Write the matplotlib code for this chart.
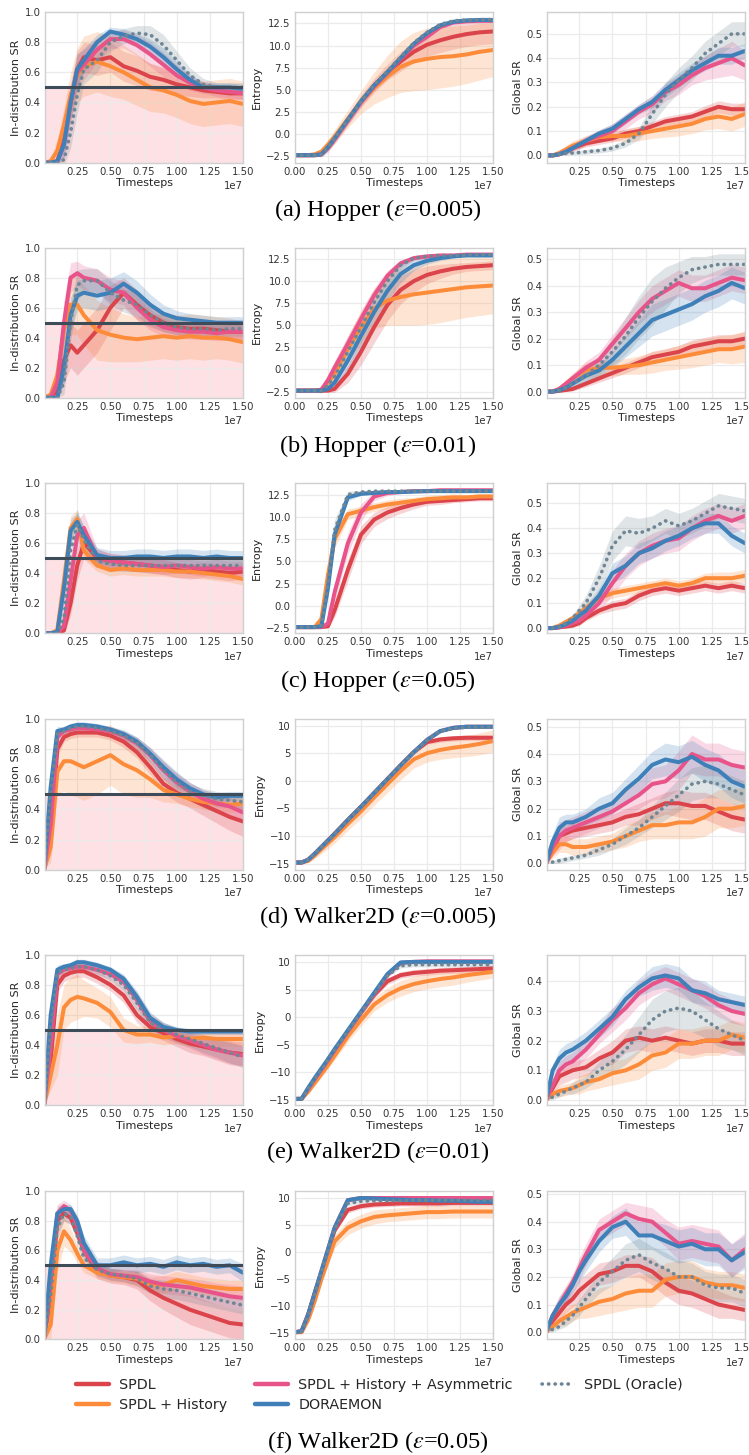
import numpy as np
import matplotlib
matplotlib.use("Agg")
import matplotlib.pyplot as plt
from matplotlib.lines import Line2D
from matplotlib.ticker import MultipleLocator

STEPS = [0, 0.05, 0.1, 0.15, 0.2, 0.25, 0.3, 0.4, 0.5, 0.6, 0.7, 0.8, 0.9, 1.0, 1.1, 1.2, 1.3, 1.4, 1.5]

METHODS = ["SPDL", "SPDL + History", "SPDL + History + Asymmetric", "DORAEMON", "SPDL (Oracle)"]
COLORS = ["#dc444c", "#fd8c3a", "#e8548a", "#3f80b9", "#6f8694"]

CAPTIONS = ["(a) Hopper ($\\epsilon$=0.005)", "(b) Hopper ($\\epsilon$=0.01)", "(c) Hopper ($\\epsilon$=0.05)",
            "(d) Walker2D ($\\epsilon$=0.005)", "(e) Walker2D ($\\epsilon$=0.01)", "(f) Walker2D ($\\epsilon$=0.05)"]

# ---------------- Hopper eps=0.005 ----------------
HOP005_ID = [
    [0, 0, 0.01, 0.15, 0.4, 0.62, 0.7, 0.68, 0.7, 0.64, 0.61, 0.57, 0.55, 0.52, 0.5, 0.48, 0.47, 0.46, 0.46],
    [0, 0.01, 0.08, 0.25, 0.45, 0.58, 0.64, 0.67, 0.64, 0.6, 0.55, 0.5, 0.48, 0.45, 0.41, 0.39, 0.4, 0.41, 0.39],
    [0, 0, 0.01, 0.12, 0.4, 0.6, 0.65, 0.75, 0.82, 0.82, 0.78, 0.72, 0.65, 0.58, 0.53, 0.5, 0.48, 0.47, 0.46],
    [0, 0, 0.01, 0.12, 0.4, 0.62, 0.68, 0.8, 0.87, 0.85, 0.82, 0.77, 0.7, 0.62, 0.55, 0.5, 0.5, 0.5, 0.49],
    [0, 0, 0, 0.02, 0.2, 0.45, 0.62, 0.68, 0.8, 0.84, 0.86, 0.85, 0.78, 0.68, 0.58, 0.52, 0.5, 0.5, 0.5],
]
HOP005_ID_SD = [
    [0, 0, 0.02, 0.08, 0.12, 0.12, 0.1, 0.1, 0.1, 0.1, 0.1, 0.09, 0.08, 0.07, 0.06, 0.05, 0.04, 0.04, 0.04],
    [0, 0.02, 0.08, 0.12, 0.15, 0.18, 0.2, 0.2, 0.2, 0.18, 0.17, 0.16, 0.15, 0.15, 0.15, 0.15, 0.15, 0.15, 0.15],
    [0, 0, 0.02, 0.1, 0.12, 0.12, 0.1, 0.08, 0.06, 0.06, 0.07, 0.08, 0.08, 0.07, 0.05, 0.04, 0.04, 0.04, 0.04],
    [0, 0, 0.02, 0.08, 0.1, 0.1, 0.08, 0.05, 0.03, 0.04, 0.04, 0.05, 0.06, 0.05, 0.04, 0.03, 0.03, 0.03, 0.03],
    [0, 0, 0, 0.04, 0.1, 0.12, 0.1, 0.08, 0.06, 0.05, 0.05, 0.06, 0.07, 0.06, 0.05, 0.04, 0.03, 0.03, 0.03],
]
HOP005_ENT = [
    [-2.4, -2.4, -2.4, -2.4, -2.3, -1.5, -0.5, 1.6, 3.7, 5.5, 7.0, 8.2, 9.3, 10.1, 10.6, 11.0, 11.3, 11.5, 11.6],
    [-2.4, -2.4, -2.4, -2.3, -2.0, -1.2, -0.3, 1.7, 3.6, 5.2, 6.5, 7.6, 8.2, 8.5, 8.7, 8.8, 9.0, 9.3, 9.5],
    [-2.4, -2.4, -2.4, -2.4, -2.3, -1.6, -0.6, 1.5, 3.6, 5.4, 6.9, 8.5, 10.0, 11.0, 12.1, 12.6, 12.75, 12.8, 12.8],
    [-2.4, -2.4, -2.4, -2.4, -2.3, -1.5, -0.5, 1.6, 3.7, 5.5, 7.0, 8.6, 10.2, 11.4, 12.3, 12.7, 12.85, 12.9, 12.9],
    [-2.4, -2.4, -2.4, -2.4, -2.3, -1.5, -0.5, 1.6, 3.7, 5.6, 7.1, 8.7, 10.3, 11.5, 12.4, 12.8, 12.9, 12.95, 12.95],
]
HOP005_ENT_SD = [
    [0.05, 0.05, 0.05, 0.1, 0.2, 0.4, 0.5, 0.6, 0.7, 0.8, 0.9, 1.1, 1.2, 1.3, 1.4, 1.4, 1.4, 1.4, 1.4],
    [0.1, 0.1, 0.1, 0.2, 0.4, 0.6, 0.8, 1.0, 1.3, 1.8, 2.4, 2.9, 3.3, 3.5, 3.5, 3.4, 3.3, 3.2, 3.0],
    [0.05, 0.05, 0.05, 0.1, 0.3, 0.5, 0.5, 0.5, 0.5, 0.5, 0.5, 0.5, 0.4, 0.3, 0.2, 0.1, 0.1, 0.1, 0.1],
    [0.05, 0.05, 0.05, 0.1, 0.2, 0.3, 0.3, 0.3, 0.3, 0.3, 0.3, 0.3, 0.3, 0.2, 0.15, 0.1, 0.1, 0.1, 0.1],
    [0.05, 0.05, 0.05, 0.1, 0.2, 0.3, 0.3, 0.3, 0.3, 0.3, 0.3, 0.3, 0.3, 0.2, 0.15, 0.1, 0.1, 0.1, 0.1],
]
HOP005_GSR = [
    [0, 0, 0.005, 0.015, 0.03, 0.04, 0.05, 0.06, 0.07, 0.09, 0.1, 0.12, 0.14, 0.15, 0.16, 0.18, 0.2, 0.19, 0.19],
    [0, 0, 0.01, 0.025, 0.04, 0.05, 0.06, 0.075, 0.08, 0.08, 0.09, 0.1, 0.11, 0.12, 0.13, 0.15, 0.16, 0.15, 0.17],
    [0, 0, 0.005, 0.015, 0.03, 0.045, 0.06, 0.08, 0.1, 0.14, 0.18, 0.21, 0.26, 0.29, 0.33, 0.36, 0.38, 0.4, 0.37],
    [0, 0, 0.005, 0.015, 0.03, 0.045, 0.06, 0.09, 0.11, 0.15, 0.19, 0.22, 0.27, 0.31, 0.35, 0.38, 0.41, 0.41, 0.43],
    [0, 0, 0.005, 0.008, 0.01, 0.012, 0.015, 0.02, 0.03, 0.05, 0.09, 0.17, 0.25, 0.31, 0.36, 0.42, 0.46, 0.5, 0.5],
]
HOP005_GSR_SD = [
    [0, 0.003, 0.005, 0.008, 0.01, 0.012, 0.015, 0.015, 0.015, 0.02, 0.02, 0.02, 0.02, 0.02, 0.02, 0.025, 0.025, 0.025, 0.025],
    [0, 0.005, 0.01, 0.015, 0.02, 0.02, 0.02, 0.02, 0.02, 0.025, 0.03, 0.03, 0.035, 0.04, 0.04, 0.045, 0.05, 0.05, 0.05],
    [0, 0.003, 0.005, 0.01, 0.015, 0.02, 0.02, 0.025, 0.03, 0.03, 0.03, 0.035, 0.035, 0.04, 0.04, 0.05, 0.06, 0.07, 0.06],
    [0, 0.003, 0.005, 0.008, 0.01, 0.012, 0.015, 0.015, 0.02, 0.02, 0.02, 0.025, 0.03, 0.03, 0.03, 0.03, 0.035, 0.035, 0.03],
    [0, 0.003, 0.005, 0.006, 0.008, 0.008, 0.01, 0.01, 0.012, 0.015, 0.025, 0.04, 0.05, 0.05, 0.05, 0.05, 0.05, 0.05, 0.05],
]

# ---------------- Hopper eps=0.01 ----------------
HOP01_ID = [
    [0, 0, 0.05, 0.25, 0.35, 0.3, 0.35, 0.45, 0.6, 0.7, 0.62, 0.55, 0.5, 0.47, 0.46, 0.46, 0.45, 0.44, 0.44],
    [0, 0.02, 0.15, 0.45, 0.62, 0.62, 0.55, 0.45, 0.42, 0.4, 0.39, 0.4, 0.41, 0.4, 0.41, 0.4, 0.4, 0.39, 0.37],
    [0, 0, 0.1, 0.5, 0.8, 0.83, 0.8, 0.78, 0.72, 0.7, 0.6, 0.52, 0.47, 0.45, 0.44, 0.44, 0.43, 0.44, 0.44],
    [0, 0, 0.0, 0.2, 0.55, 0.68, 0.7, 0.68, 0.7, 0.76, 0.7, 0.62, 0.56, 0.53, 0.52, 0.51, 0.5, 0.5, 0.5],
    [0, 0, 0, 0.1, 0.5, 0.75, 0.78, 0.78, 0.7, 0.65, 0.62, 0.55, 0.5, 0.47, 0.46, 0.46, 0.45, 0.46, 0.46],
]
HOP01_ID_SD = [
    [0, 0, 0.05, 0.15, 0.15, 0.15, 0.15, 0.15, 0.15, 0.1, 0.1, 0.08, 0.06, 0.05, 0.05, 0.05, 0.05, 0.05, 0.05],
    [0, 0.02, 0.1, 0.15, 0.2, 0.2, 0.2, 0.2, 0.18, 0.16, 0.15, 0.15, 0.15, 0.15, 0.15, 0.15, 0.14, 0.14, 0.14],
    [0, 0, 0.05, 0.15, 0.1, 0.08, 0.08, 0.08, 0.08, 0.08, 0.08, 0.07, 0.06, 0.05, 0.05, 0.05, 0.05, 0.05, 0.05],
    [0, 0, 0.02, 0.1, 0.12, 0.1, 0.1, 0.1, 0.1, 0.08, 0.08, 0.07, 0.06, 0.05, 0.04, 0.04, 0.04, 0.04, 0.04],
    [0, 0, 0, 0.08, 0.12, 0.1, 0.08, 0.08, 0.08, 0.08, 0.08, 0.07, 0.06, 0.05, 0.05, 0.05, 0.05, 0.05, 0.05],
]
HOP01_ENT = [
    [-2.4, -2.4, -2.4, -2.4, -2.4, -2.4, -2.2, -0.5, 2.0, 4.8, 7.3, 9.0, 10.0, 10.7, 11.1, 11.4, 11.6, 11.7, 11.8],
    [-2.4, -2.4, -2.4, -2.4, -2.3, -1.5, -0.5, 2.3, 4.8, 6.9, 7.8, 8.2, 8.5, 8.7, 8.9, 9.1, 9.3, 9.4, 9.5],
    [-2.4, -2.4, -2.4, -2.4, -2.3, -1.2, 0.2, 2.9, 5.7, 8.4, 10.6, 12.0, 12.6, 12.8, 12.9, 12.9, 13.0, 13.0, 13.0],
    [-2.4, -2.4, -2.4, -2.4, -2.4, -2.2, -1.5, 1.0, 3.8, 6.5, 8.9, 10.8, 11.8, 12.3, 12.6, 12.8, 12.9, 12.9, 12.9],
    [-2.4, -2.4, -2.4, -2.4, -2.4, -1.8, -0.8, 2.0, 4.8, 7.6, 10.0, 11.8, 12.6, 12.8, 12.9, 12.9, 12.95, 13.0, 13.0],
]
HOP01_ENT_SD = [
    [0.05, 0.05, 0.05, 0.05, 0.1, 0.2, 0.4, 1.0, 1.5, 1.8, 1.8, 1.6, 1.3, 1.0, 0.8, 0.6, 0.5, 0.5, 0.5],
    [0.1, 0.1, 0.1, 0.2, 0.4, 0.7, 1.0, 1.5, 1.8, 2.3, 2.8, 3.2, 3.5, 3.6, 3.6, 3.5, 3.4, 3.3, 3.2],
    [0.05, 0.05, 0.05, 0.1, 0.3, 0.6, 0.8, 0.9, 0.9, 0.8, 0.6, 0.4, 0.2, 0.1, 0.1, 0.1, 0.1, 0.1, 0.1],
    [0.05, 0.05, 0.05, 0.05, 0.1, 0.3, 0.5, 0.9, 1.2, 1.3, 1.2, 1.0, 0.6, 0.4, 0.3, 0.2, 0.1, 0.1, 0.1],
    [0.05, 0.05, 0.05, 0.05, 0.2, 0.5, 0.7, 0.9, 1.0, 1.0, 0.8, 0.5, 0.3, 0.2, 0.1, 0.1, 0.1, 0.1, 0.1],
]
HOP01_GSR = [
    [0, 0, 0.003, 0.006, 0.01, 0.02, 0.03, 0.05, 0.07, 0.09, 0.11, 0.13, 0.14, 0.15, 0.17, 0.18, 0.19, 0.19, 0.2],
    [0, 0, 0.01, 0.03, 0.05, 0.065, 0.08, 0.09, 0.09, 0.095, 0.1, 0.11, 0.12, 0.13, 0.14, 0.15, 0.16, 0.16, 0.17],
    [0, 0, 0.01, 0.03, 0.05, 0.07, 0.09, 0.12, 0.18, 0.24, 0.3, 0.35, 0.38, 0.41, 0.39, 0.39, 0.41, 0.43, 0.42],
    [0, 0, 0.005, 0.015, 0.03, 0.045, 0.06, 0.08, 0.12, 0.17, 0.22, 0.27, 0.29, 0.31, 0.33, 0.36, 0.38, 0.41, 0.39],
    [0, 0, 0.005, 0.015, 0.03, 0.045, 0.06, 0.1, 0.15, 0.21, 0.28, 0.34, 0.39, 0.43, 0.46, 0.47, 0.48, 0.48, 0.48],
]
HOP01_GSR_SD = [
    [0, 0.002, 0.003, 0.005, 0.008, 0.01, 0.012, 0.015, 0.018, 0.02, 0.02, 0.022, 0.022, 0.024, 0.025, 0.025, 0.025, 0.025, 0.025],
    [0, 0.005, 0.01, 0.015, 0.02, 0.025, 0.03, 0.03, 0.03, 0.03, 0.035, 0.04, 0.04, 0.045, 0.05, 0.05, 0.05, 0.055, 0.06],
    [0, 0.003, 0.005, 0.01, 0.015, 0.02, 0.025, 0.03, 0.035, 0.04, 0.045, 0.05, 0.05, 0.05, 0.05, 0.05, 0.05, 0.05, 0.05],
    [0, 0.003, 0.005, 0.01, 0.012, 0.015, 0.02, 0.025, 0.03, 0.04, 0.05, 0.06, 0.06, 0.06, 0.06, 0.06, 0.06, 0.06, 0.06],
    [0, 0.003, 0.005, 0.01, 0.015, 0.02, 0.025, 0.035, 0.05, 0.07, 0.08, 0.09, 0.08, 0.06, 0.05, 0.04, 0.04, 0.04, 0.04],
]

# ---------------- Hopper eps=0.05 ----------------
HOP05_ID = [
    [0, 0, 0, 0.02, 0.2, 0.45, 0.6, 0.5, 0.48, 0.47, 0.46, 0.45, 0.44, 0.42, 0.41, 0.42, 0.41, 0.4, 0.41],
    [0, 0, 0.02, 0.35, 0.7, 0.76, 0.55, 0.45, 0.42, 0.43, 0.42, 0.42, 0.42, 0.41, 0.41, 0.4, 0.39, 0.38, 0.36],
    [0, 0, 0, 0.05, 0.35, 0.65, 0.7, 0.5, 0.48, 0.47, 0.46, 0.45, 0.44, 0.45, 0.44, 0.43, 0.44, 0.43, 0.43],
    [0, 0, 0.01, 0.3, 0.68, 0.74, 0.65, 0.52, 0.5, 0.5, 0.51, 0.51, 0.5, 0.51, 0.51, 0.5, 0.51, 0.5, 0.5],
    [0, 0, 0, 0.1, 0.55, 0.72, 0.62, 0.48, 0.46, 0.45, 0.45, 0.45, 0.45, 0.45, 0.45, 0.45, 0.45, 0.45, 0.45],
]
HOP05_ID_SD = [
    [0, 0, 0, 0.02, 0.08, 0.1, 0.1, 0.06, 0.05, 0.05, 0.05, 0.05, 0.05, 0.05, 0.05, 0.05, 0.05, 0.05, 0.05],
    [0, 0, 0.02, 0.1, 0.08, 0.06, 0.06, 0.04, 0.04, 0.04, 0.04, 0.04, 0.04, 0.04, 0.04, 0.04, 0.04, 0.04, 0.04],
    [0, 0, 0, 0.04, 0.1, 0.1, 0.1, 0.06, 0.05, 0.05, 0.05, 0.05, 0.05, 0.05, 0.05, 0.05, 0.05, 0.05, 0.05],
    [0, 0, 0.01, 0.1, 0.08, 0.06, 0.06, 0.05, 0.05, 0.05, 0.05, 0.05, 0.05, 0.05, 0.05, 0.05, 0.05, 0.05, 0.05],
    [0, 0, 0, 0.08, 0.1, 0.1, 0.08, 0.04, 0.04, 0.04, 0.04, 0.04, 0.04, 0.04, 0.04, 0.04, 0.04, 0.04, 0.04],
]
HOP05_ENT = [
    [-2.4, -2.4, -2.4, -2.4, -2.4, -2.3, -0.5, 4.0, 8.0, 9.7, 10.5, 11.0, 11.4, 11.7, 11.8, 11.9, 12.0, 12.1, 12.1],
    [-2.4, -2.4, -2.4, -2.4, -1.5, 3.5, 7.5, 10.3, 10.7, 11.1, 11.4, 11.6, 11.8, 12.0, 12.1, 12.2, 12.2, 12.3, 12.3],
    [-2.4, -2.4, -2.4, -2.4, -2.4, -2.0, 1.5, 7.0, 10.5, 12.3, 12.7, 12.8, 12.9, 12.9, 13.0, 13.0, 13.0, 13.0, 13.0],
    [-2.4, -2.4, -2.4, -2.4, -2.3, 2.0, 8.0, 12.2, 12.6, 12.7, 12.8, 12.8, 12.85, 12.9, 12.9, 12.9, 12.9, 12.9, 12.9],
    [-2.4, -2.4, -2.4, -2.4, -2.2, 2.5, 8.5, 12.5, 12.8, 12.9, 12.9, 12.9, 12.9, 12.9, 12.9, 12.9, 12.9, 12.9, 12.9],
]
HOP05_ENT_SD = [
    [0.05, 0.05, 0.05, 0.05, 0.1, 0.2, 0.8, 1.2, 1.0, 0.8, 0.7, 0.6, 0.5, 0.4, 0.4, 0.3, 0.3, 0.3, 0.3],
    [0.05, 0.05, 0.05, 0.1, 0.6, 1.0, 1.0, 0.6, 0.5, 0.5, 0.5, 0.5, 0.4, 0.4, 0.4, 0.4, 0.3, 0.3, 0.3],
    [0.05, 0.05, 0.05, 0.05, 0.1, 0.4, 1.0, 1.2, 1.0, 0.5, 0.3, 0.2, 0.1, 0.1, 0.1, 0.1, 0.1, 0.1, 0.1],
    [0.05, 0.05, 0.05, 0.05, 0.2, 0.8, 1.0, 0.4, 0.2, 0.1, 0.1, 0.1, 0.1, 0.1, 0.1, 0.1, 0.1, 0.1, 0.1],
    [0.05, 0.05, 0.05, 0.05, 0.3, 1.0, 1.2, 0.4, 0.2, 0.1, 0.1, 0.1, 0.1, 0.1, 0.1, 0.1, 0.1, 0.1, 0.1],
]
HOP05_GSR = [
    [0, 0, 0.003, 0.006, 0.01, 0.02, 0.04, 0.07, 0.09, 0.1, 0.13, 0.15, 0.16, 0.15, 0.16, 0.17, 0.16, 0.17, 0.16],
    [0, 0, 0.01, 0.025, 0.04, 0.06, 0.08, 0.12, 0.14, 0.15, 0.16, 0.17, 0.18, 0.17, 0.18, 0.2, 0.2, 0.2, 0.21],
    [0, 0, 0.003, 0.01, 0.02, 0.03, 0.05, 0.1, 0.18, 0.25, 0.3, 0.33, 0.35, 0.36, 0.4, 0.43, 0.45, 0.43, 0.45],
    [0, 0, 0.005, 0.015, 0.03, 0.05, 0.07, 0.13, 0.22, 0.25, 0.3, 0.32, 0.35, 0.37, 0.4, 0.42, 0.42, 0.37, 0.34],
    [0, 0, 0.005, 0.02, 0.04, 0.07, 0.1, 0.2, 0.33, 0.39, 0.38, 0.4, 0.43, 0.41, 0.43, 0.46, 0.49, 0.48, 0.47],
]
HOP05_GSR_SD = [
    [0, 0.002, 0.003, 0.005, 0.008, 0.01, 0.012, 0.015, 0.02, 0.02, 0.02, 0.02, 0.02, 0.02, 0.02, 0.02, 0.02, 0.02, 0.02],
    [0, 0.005, 0.008, 0.01, 0.012, 0.015, 0.02, 0.02, 0.02, 0.02, 0.02, 0.02, 0.02, 0.02, 0.02, 0.02, 0.025, 0.025, 0.025],
    [0, 0.002, 0.003, 0.005, 0.008, 0.01, 0.015, 0.03, 0.05, 0.05, 0.05, 0.05, 0.05, 0.05, 0.05, 0.05, 0.05, 0.05, 0.05],
    [0, 0.003, 0.005, 0.008, 0.01, 0.015, 0.02, 0.03, 0.04, 0.04, 0.04, 0.04, 0.04, 0.04, 0.04, 0.04, 0.04, 0.04, 0.04],
    [0, 0.003, 0.005, 0.01, 0.015, 0.02, 0.03, 0.05, 0.06, 0.06, 0.06, 0.05, 0.05, 0.05, 0.05, 0.05, 0.05, 0.05, 0.05],
]

# ---------------- Walker2D eps=0.005 ----------------
WLK005_ID = [
    [0, 0.2, 0.8, 0.88, 0.9, 0.91, 0.91, 0.91, 0.89, 0.85, 0.78, 0.68, 0.57, 0.51, 0.47, 0.43, 0.39, 0.35, 0.32],
    [0, 0.15, 0.65, 0.72, 0.72, 0.7, 0.68, 0.72, 0.76, 0.7, 0.66, 0.6, 0.53, 0.5, 0.47, 0.45, 0.44, 0.43, 0.44],
    [0, 0.3, 0.88, 0.92, 0.93, 0.94, 0.94, 0.93, 0.92, 0.89, 0.84, 0.76, 0.66, 0.58, 0.52, 0.47, 0.44, 0.42, 0.38],
    [0, 0.55, 0.92, 0.93, 0.95, 0.96, 0.96, 0.95, 0.93, 0.9, 0.85, 0.77, 0.68, 0.6, 0.54, 0.5, 0.48, 0.49, 0.49],
    [0, 0.5, 0.9, 0.92, 0.94, 0.95, 0.95, 0.94, 0.92, 0.89, 0.84, 0.76, 0.66, 0.58, 0.52, 0.49, 0.47, 0.46, 0.45],
]
WLK005_ID_SD = [
    [0, 0.1, 0.05, 0.03, 0.03, 0.03, 0.03, 0.03, 0.03, 0.04, 0.04, 0.05, 0.06, 0.06, 0.06, 0.07, 0.08, 0.09, 0.1],
    [0, 0.1, 0.15, 0.2, 0.22, 0.22, 0.22, 0.22, 0.2, 0.2, 0.18, 0.12, 0.08, 0.06, 0.05, 0.05, 0.05, 0.05, 0.05],
    [0, 0.1, 0.04, 0.03, 0.03, 0.03, 0.03, 0.03, 0.03, 0.03, 0.04, 0.05, 0.06, 0.06, 0.06, 0.06, 0.06, 0.06, 0.06],
    [0, 0.1, 0.03, 0.02, 0.02, 0.02, 0.02, 0.02, 0.02, 0.03, 0.03, 0.04, 0.05, 0.05, 0.04, 0.03, 0.03, 0.03, 0.03],
    [0, 0.1, 0.04, 0.03, 0.03, 0.03, 0.03, 0.03, 0.03, 0.03, 0.04, 0.05, 0.06, 0.06, 0.05, 0.05, 0.05, 0.05, 0.05],
]
WLK005_ENT = [
    [-14.8, -14.8, -14.3, -13.2, -12.0, -10.8, -9.6, -7.1, -4.7, -2.2, 0.3, 2.8, 5.2, 7.0, 7.5, 7.7, 7.8, 7.8, 7.8],
    [-14.8, -14.8, -14.5, -13.5, -12.4, -11.3, -10.2, -7.8, -5.5, -3.0, -0.6, 1.8, 3.9, 5.0, 5.6, 6.0, 6.3, 6.7, 7.2],
    [-14.8, -14.8, -14.3, -13.2, -12.0, -10.8, -9.6, -7.1, -4.7, -2.2, 0.3, 2.8, 5.2, 7.4, 9.0, 9.6, 9.8, 9.8, 9.8],
    [-14.8, -14.8, -14.3, -13.2, -12.0, -10.8, -9.6, -7.1, -4.7, -2.2, 0.3, 2.8, 5.2, 7.4, 9.0, 9.6, 9.8, 9.8, 9.8],
    [-14.8, -14.8, -14.3, -13.2, -12.0, -10.8, -9.6, -7.1, -4.7, -2.2, 0.3, 2.8, 5.2, 7.4, 9.0, 9.5, 9.7, 9.7, 9.7],
]
WLK005_ENT_SD = [
    [0.1, 0.1, 0.2, 0.3, 0.3, 0.3, 0.3, 0.3, 0.3, 0.3, 0.3, 0.3, 0.3, 0.4, 0.5, 0.5, 0.5, 0.5, 0.5],
    [0.1, 0.1, 0.3, 0.6, 0.8, 1.0, 1.1, 1.2, 1.3, 1.4, 1.5, 1.6, 1.6, 1.6, 1.7, 1.8, 1.9, 2.0, 2.0],
    [0.1, 0.1, 0.2, 0.2, 0.2, 0.2, 0.2, 0.2, 0.2, 0.2, 0.2, 0.2, 0.2, 0.2, 0.2, 0.2, 0.2, 0.2, 0.2],
    [0.1, 0.1, 0.2, 0.2, 0.2, 0.2, 0.2, 0.2, 0.2, 0.2, 0.2, 0.2, 0.2, 0.2, 0.2, 0.2, 0.2, 0.2, 0.2],
    [0.1, 0.1, 0.2, 0.2, 0.2, 0.2, 0.2, 0.2, 0.2, 0.2, 0.2, 0.2, 0.2, 0.2, 0.2, 0.2, 0.2, 0.2, 0.2],
]
WLK005_GSR = [
    [0, 0.05, 0.1, 0.11, 0.12, 0.125, 0.13, 0.14, 0.15, 0.17, 0.18, 0.2, 0.22, 0.22, 0.21, 0.21, 0.19, 0.17, 0.16],
    [0, 0.04, 0.07, 0.07, 0.06, 0.06, 0.06, 0.07, 0.08, 0.1, 0.12, 0.14, 0.14, 0.15, 0.15, 0.17, 0.2, 0.2, 0.21],
    [0, 0.06, 0.1, 0.12, 0.13, 0.14, 0.15, 0.17, 0.19, 0.22, 0.25, 0.29, 0.3, 0.34, 0.4, 0.38, 0.38, 0.36, 0.35],
    [0, 0.08, 0.13, 0.15, 0.15, 0.16, 0.17, 0.2, 0.22, 0.27, 0.31, 0.36, 0.38, 0.37, 0.39, 0.36, 0.34, 0.3, 0.28],
    [0, 0.005, 0.01, 0.015, 0.02, 0.025, 0.03, 0.05, 0.07, 0.1, 0.13, 0.17, 0.21, 0.25, 0.29, 0.3, 0.29, 0.27, 0.25],
]
WLK005_GSR_SD = [
    [0, 0.02, 0.03, 0.03, 0.03, 0.03, 0.03, 0.03, 0.03, 0.03, 0.04, 0.04, 0.04, 0.05, 0.05, 0.05, 0.05, 0.05, 0.05],
    [0, 0.02, 0.03, 0.03, 0.03, 0.03, 0.03, 0.03, 0.03, 0.04, 0.04, 0.05, 0.05, 0.06, 0.06, 0.07, 0.07, 0.07, 0.07],
    [0, 0.03, 0.05, 0.04, 0.04, 0.04, 0.04, 0.04, 0.04, 0.05, 0.05, 0.06, 0.06, 0.07, 0.07, 0.06, 0.06, 0.06, 0.06],
    [0, 0.03, 0.04, 0.03, 0.03, 0.03, 0.03, 0.04, 0.04, 0.04, 0.05, 0.05, 0.06, 0.06, 0.06, 0.06, 0.06, 0.06, 0.06],
    [0, 0.005, 0.01, 0.01, 0.01, 0.01, 0.01, 0.02, 0.02, 0.03, 0.03, 0.04, 0.05, 0.06, 0.06, 0.06, 0.05, 0.05, 0.05],
]

# ---------------- Walker2D eps=0.01 ----------------
WLK01_ID = [
    [0, 0.3, 0.8, 0.86, 0.88, 0.89, 0.89, 0.85, 0.8, 0.73, 0.6, 0.52, 0.48, 0.44, 0.41, 0.39, 0.37, 0.35, 0.34],
    [0, 0.2, 0.4, 0.65, 0.7, 0.72, 0.71, 0.68, 0.62, 0.5, 0.47, 0.47, 0.45, 0.46, 0.44, 0.45, 0.44, 0.44, 0.44],
    [0, 0.4, 0.87, 0.9, 0.91, 0.92, 0.92, 0.9, 0.87, 0.82, 0.7, 0.56, 0.5, 0.46, 0.43, 0.4, 0.37, 0.35, 0.33],
    [0, 0.6, 0.9, 0.92, 0.93, 0.95, 0.95, 0.93, 0.9, 0.84, 0.72, 0.58, 0.52, 0.5, 0.49, 0.49, 0.49, 0.49, 0.49],
    [0, 0.5, 0.88, 0.9, 0.91, 0.92, 0.92, 0.9, 0.86, 0.8, 0.68, 0.55, 0.5, 0.47, 0.44, 0.41, 0.38, 0.35, 0.32],
]
WLK01_ID_SD = [
    [0, 0.1, 0.05, 0.04, 0.04, 0.04, 0.04, 0.04, 0.04, 0.05, 0.05, 0.05, 0.05, 0.05, 0.06, 0.06, 0.07, 0.08, 0.08],
    [0, 0.1, 0.2, 0.15, 0.15, 0.15, 0.12, 0.1, 0.1, 0.08, 0.06, 0.05, 0.05, 0.05, 0.05, 0.05, 0.05, 0.05, 0.05],
    [0, 0.1, 0.04, 0.03, 0.03, 0.03, 0.03, 0.03, 0.03, 0.04, 0.05, 0.05, 0.05, 0.05, 0.05, 0.06, 0.06, 0.07, 0.07],
    [0, 0.1, 0.03, 0.02, 0.02, 0.02, 0.02, 0.02, 0.02, 0.03, 0.04, 0.04, 0.03, 0.02, 0.02, 0.02, 0.02, 0.02, 0.02],
    [0, 0.1, 0.04, 0.03, 0.03, 0.03, 0.03, 0.03, 0.03, 0.04, 0.05, 0.05, 0.05, 0.05, 0.05, 0.06, 0.06, 0.07, 0.07],
]
WLK01_ENT = [
    [-14.8, -14.8, -13.0, -11.2, -9.5, -7.8, -6.0, -2.6, 0.8, 4.0, 6.5, 7.6, 8.0, 8.2, 8.4, 8.5, 8.6, 8.7, 8.8],
    [-14.8, -14.8, -13.5, -11.9, -10.3, -8.7, -7.0, -3.5, -0.5, 2.3, 4.0, 5.2, 6.0, 6.5, 6.9, 7.2, 7.6, 7.9, 8.2],
    [-14.8, -14.8, -13.0, -11.2, -9.5, -7.8, -6.0, -2.6, 0.8, 4.2, 7.6, 9.8, 10.0, 10.1, 10.1, 10.1, 10.1, 10.1, 10.1],
    [-14.8, -14.8, -12.8, -11.0, -9.3, -7.6, -5.8, -2.4, 1.0, 4.4, 7.8, 9.9, 10.0, 10.0, 10.0, 10.0, 10.0, 10.0, 10.0],
    [-14.8, -14.8, -13.0, -11.2, -9.5, -7.8, -6.0, -2.6, 0.8, 4.2, 7.5, 9.3, 9.5, 9.5, 9.5, 9.5, 9.5, 9.5, 9.5],
]
WLK01_ENT_SD = [
    [0.1, 0.1, 0.2, 0.3, 0.3, 0.3, 0.3, 0.3, 0.4, 0.5, 0.6, 0.6, 0.6, 0.6, 0.6, 0.6, 0.6, 0.6, 0.6],
    [0.1, 0.1, 0.3, 0.5, 0.6, 0.7, 0.8, 1.0, 1.1, 1.2, 1.3, 1.4, 1.4, 1.4, 1.4, 1.4, 1.3, 1.2, 1.1],
    [0.1, 0.1, 0.2, 0.2, 0.2, 0.2, 0.2, 0.2, 0.2, 0.2, 0.2, 0.2, 0.2, 0.2, 0.2, 0.2, 0.2, 0.2, 0.2],
    [0.1, 0.1, 0.2, 0.2, 0.2, 0.2, 0.2, 0.2, 0.2, 0.2, 0.2, 0.2, 0.2, 0.2, 0.2, 0.2, 0.2, 0.2, 0.2],
    [0.1, 0.1, 0.2, 0.2, 0.2, 0.2, 0.2, 0.2, 0.2, 0.2, 0.3, 0.4, 0.4, 0.4, 0.4, 0.4, 0.4, 0.4, 0.4],
]
WLK01_GSR = [
    [0, 0.04, 0.08, 0.09, 0.1, 0.105, 0.11, 0.14, 0.16, 0.2, 0.21, 0.2, 0.21, 0.2, 0.19, 0.2, 0.2, 0.19, 0.19],
    [0, 0.02, 0.03, 0.035, 0.04, 0.05, 0.06, 0.07, 0.09, 0.1, 0.12, 0.15, 0.16, 0.19, 0.19, 0.2, 0.2, 0.22, 0.21],
    [0, 0.05, 0.1, 0.12, 0.13, 0.15, 0.17, 0.22, 0.27, 0.31, 0.36, 0.39, 0.41, 0.39, 0.37, 0.35, 0.32, 0.3, 0.29],
    [0, 0.1, 0.14, 0.16, 0.17, 0.185, 0.2, 0.24, 0.28, 0.34, 0.38, 0.41, 0.42, 0.41, 0.37, 0.36, 0.34, 0.33, 0.32],
    [0, 0.01, 0.02, 0.03, 0.04, 0.05, 0.06, 0.1, 0.13, 0.17, 0.22, 0.27, 0.3, 0.31, 0.3, 0.27, 0.24, 0.22, 0.2],
]
WLK01_GSR_SD = [
    [0, 0.02, 0.03, 0.03, 0.03, 0.03, 0.03, 0.03, 0.04, 0.04, 0.04, 0.04, 0.04, 0.04, 0.04, 0.04, 0.04, 0.04, 0.04],
    [0, 0.01, 0.02, 0.02, 0.02, 0.03, 0.03, 0.03, 0.04, 0.04, 0.05, 0.05, 0.05, 0.05, 0.05, 0.05, 0.05, 0.05, 0.05],
    [0, 0.02, 0.03, 0.03, 0.03, 0.03, 0.03, 0.03, 0.04, 0.04, 0.04, 0.04, 0.04, 0.04, 0.04, 0.04, 0.04, 0.04, 0.04],
    [0, 0.02, 0.03, 0.03, 0.03, 0.03, 0.03, 0.03, 0.03, 0.03, 0.03, 0.04, 0.04, 0.04, 0.04, 0.04, 0.03, 0.03, 0.03],
    [0, 0.01, 0.01, 0.01, 0.02, 0.02, 0.02, 0.03, 0.04, 0.05, 0.06, 0.07, 0.07, 0.07, 0.07, 0.06, 0.06, 0.05, 0.05],
]

# ---------------- Walker2D eps=0.05 ----------------
WLK05_ID = [
    [0, 0.3, 0.8, 0.85, 0.82, 0.72, 0.6, 0.46, 0.43, 0.42, 0.4, 0.33, 0.28, 0.24, 0.2, 0.17, 0.14, 0.11, 0.1],
    [0, 0.1, 0.6, 0.73, 0.67, 0.58, 0.5, 0.45, 0.43, 0.42, 0.41, 0.37, 0.37, 0.4, 0.38, 0.36, 0.35, 0.34, 0.34],
    [0, 0.4, 0.85, 0.9, 0.87, 0.77, 0.6, 0.48, 0.44, 0.43, 0.42, 0.39, 0.37, 0.36, 0.35, 0.33, 0.31, 0.29, 0.28],
    [0, 0.5, 0.85, 0.88, 0.88, 0.8, 0.65, 0.5, 0.5, 0.52, 0.5, 0.51, 0.49, 0.52, 0.5, 0.51, 0.49, 0.5, 0.45],
    [0, 0.3, 0.75, 0.85, 0.83, 0.7, 0.55, 0.47, 0.44, 0.43, 0.41, 0.36, 0.34, 0.33, 0.31, 0.29, 0.27, 0.25, 0.23],
]
WLK05_ID_SD = [
    [0, 0.1, 0.08, 0.05, 0.05, 0.05, 0.05, 0.05, 0.05, 0.05, 0.06, 0.07, 0.08, 0.09, 0.1, 0.1, 0.1, 0.1, 0.1],
    [0, 0.1, 0.15, 0.1, 0.08, 0.06, 0.05, 0.04, 0.04, 0.04, 0.05, 0.05, 0.06, 0.06, 0.06, 0.06, 0.06, 0.06, 0.06],
    [0, 0.1, 0.06, 0.04, 0.04, 0.05, 0.05, 0.05, 0.04, 0.04, 0.05, 0.05, 0.06, 0.06, 0.06, 0.07, 0.07, 0.08, 0.08],
    [0, 0.1, 0.05, 0.03, 0.03, 0.04, 0.05, 0.05, 0.05, 0.05, 0.05, 0.05, 0.05, 0.05, 0.05, 0.05, 0.05, 0.05, 0.06],
    [0, 0.1, 0.08, 0.05, 0.05, 0.05, 0.05, 0.04, 0.04, 0.04, 0.05, 0.05, 0.06, 0.06, 0.06, 0.06, 0.06, 0.06, 0.06],
]
WLK05_ENT = [
    [-14.8, -14.6, -11.5, -7.5, -3.8, 0.2, 4.0, 7.8, 8.5, 8.8, 8.9, 9.0, 9.0, 9.0, 9.0, 9.1, 9.1, 9.1, 9.1],
    [-14.8, -14.8, -12.5, -9.0, -5.0, -1.5, 2.0, 4.5, 5.7, 6.5, 6.8, 7.0, 7.2, 7.4, 7.4, 7.5, 7.5, 7.5, 7.5],
    [-14.8, -14.6, -11.5, -7.5, -3.5, 0.5, 4.5, 9.6, 10.0, 10.0, 10.0, 10.0, 10.0, 10.0, 10.0, 10.0, 10.0, 10.0, 10.0],
    [-14.8, -14.6, -11.5, -7.5, -3.5, 0.5, 4.5, 9.6, 10.0, 9.9, 9.8, 9.7, 9.6, 9.6, 9.5, 9.5, 9.4, 9.3, 9.3],
    [-14.8, -14.6, -11.8, -7.8, -3.8, 0.2, 4.2, 9.0, 9.4, 9.5, 9.5, 9.5, 9.6, 9.6, 9.6, 9.6, 9.6, 9.6, 9.6],
]
WLK05_ENT_SD = [
    [0.1, 0.1, 0.3, 0.4, 0.5, 0.5, 0.6, 0.6, 0.5, 0.5, 0.5, 0.5, 0.5, 0.5, 0.5, 0.5, 0.5, 0.5, 0.5],
    [0.1, 0.1, 0.4, 0.6, 0.8, 1.0, 1.2, 1.3, 1.3, 1.3, 1.2, 1.2, 1.2, 1.2, 1.2, 1.2, 1.2, 1.2, 1.2],
    [0.1, 0.1, 0.3, 0.3, 0.3, 0.3, 0.3, 0.2, 0.2, 0.2, 0.2, 0.2, 0.2, 0.2, 0.2, 0.2, 0.2, 0.2, 0.2],
    [0.1, 0.1, 0.3, 0.3, 0.3, 0.3, 0.3, 0.2, 0.2, 0.2, 0.2, 0.3, 0.3, 0.3, 0.3, 0.3, 0.3, 0.3, 0.3],
    [0.1, 0.1, 0.3, 0.3, 0.3, 0.3, 0.3, 0.4, 0.4, 0.4, 0.4, 0.4, 0.4, 0.4, 0.4, 0.4, 0.4, 0.4, 0.4],
]
WLK05_GSR = [
    [0, 0.04, 0.07, 0.1, 0.12, 0.15, 0.17, 0.21, 0.22, 0.24, 0.24, 0.22, 0.18, 0.15, 0.14, 0.12, 0.1, 0.09, 0.08],
    [0, 0.02, 0.04, 0.055, 0.07, 0.08, 0.09, 0.11, 0.12, 0.14, 0.15, 0.15, 0.19, 0.2, 0.2, 0.18, 0.17, 0.17, 0.16],
    [0, 0.06, 0.1, 0.14, 0.18, 0.23, 0.28, 0.37, 0.4, 0.43, 0.41, 0.4, 0.36, 0.32, 0.33, 0.32, 0.31, 0.26, 0.3],
    [0, 0.06, 0.1, 0.13, 0.17, 0.22, 0.26, 0.33, 0.38, 0.4, 0.35, 0.35, 0.33, 0.31, 0.32, 0.3, 0.3, 0.26, 0.29],
    [0, 0.01, 0.02, 0.04, 0.06, 0.09, 0.12, 0.18, 0.22, 0.26, 0.28, 0.25, 0.23, 0.2, 0.2, 0.17, 0.16, 0.16, 0.14],
]
WLK05_GSR_SD = [
    [0, 0.02, 0.03, 0.03, 0.03, 0.04, 0.04, 0.04, 0.04, 0.04, 0.04, 0.05, 0.05, 0.05, 0.05, 0.05, 0.05, 0.04, 0.04],
    [0, 0.01, 0.02, 0.03, 0.03, 0.03, 0.04, 0.05, 0.05, 0.06, 0.06, 0.06, 0.06, 0.06, 0.06, 0.05, 0.05, 0.05, 0.05],
    [0, 0.02, 0.03, 0.03, 0.03, 0.04, 0.04, 0.04, 0.04, 0.04, 0.05, 0.05, 0.05, 0.06, 0.06, 0.06, 0.06, 0.06, 0.06],
    [0, 0.02, 0.03, 0.03, 0.03, 0.04, 0.04, 0.04, 0.04, 0.05, 0.05, 0.05, 0.06, 0.06, 0.06, 0.06, 0.06, 0.06, 0.06],
    [0, 0.01, 0.01, 0.02, 0.02, 0.03, 0.03, 0.04, 0.05, 0.06, 0.06, 0.06, 0.06, 0.06, 0.05, 0.05, 0.05, 0.05, 0.05],
]

ROWS = [
    (HOP005_ID, HOP005_ID_SD, HOP005_ENT, HOP005_ENT_SD, HOP005_GSR, HOP005_GSR_SD),
    (HOP01_ID, HOP01_ID_SD, HOP01_ENT, HOP01_ENT_SD, HOP01_GSR, HOP01_GSR_SD),
    (HOP05_ID, HOP05_ID_SD, HOP05_ENT, HOP05_ENT_SD, HOP05_GSR, HOP05_GSR_SD),
    (WLK005_ID, WLK005_ID_SD, WLK005_ENT, WLK005_ENT_SD, WLK005_GSR, WLK005_GSR_SD),
    (WLK01_ID, WLK01_ID_SD, WLK01_ENT, WLK01_ENT_SD, WLK01_GSR, WLK01_GSR_SD),
    (WLK05_ID, WLK05_ID_SD, WLK05_ENT, WLK05_ENT_SD, WLK05_GSR, WLK05_GSR_SD),
]

# layout (pixels of a 749x1455 canvas)
W, H = 749, 1455
COL_LEFT = [45, 295, 547]
COL_W = 198
ROW_TOP = [12, 247.7, 482.7, 719, 954.7, 1191.3]
ROW_BOT = [162.7, 397.7, 633.3, 869.7, 1105.3, 1339.3]
CAP_Y = [210, 445.6, 681, 917, 1152.5, 1442]
ENT_LIM = [(-3.25, 13.8), (-3.2, 13.78), (-3.1, 13.85), (-16.1, 11.2), (-15.96, 11.3), (-16.1, 11.24)]
ENT_STEP = [2.5, 2.5, 2.5, 5, 5, 5]
GSR_LIM = [(-0.03, 0.59), (-0.023, 0.543), (-0.021, 0.583), (-0.023, 0.528), (-0.018, 0.49), (-0.026, 0.51)]

plt.rcParams["font.family"] = ["DejaVu Sans"]
plt.rcParams["mathtext.fontset"] = "stix"
plt.rcParams["axes.edgecolor"] = "#d0d0d0"
plt.rcParams["axes.linewidth"] = 1.0
plt.rcParams["xtick.color"] = "#333333"
plt.rcParams["ytick.color"] = "#333333"
plt.rcParams["axes.labelcolor"] = "#262626"

fig = plt.figure(figsize=(W / 100, H / 100), dpi=100)
x = np.array(STEPS) * 1e7


def style(ax):
    ax.set_facecolor("white")
    ax.grid(True, color="#ebebeb", linewidth=0.9)
    ax.set_axisbelow(True)
    ax.tick_params(length=0, labelsize=7.3, pad=3)
    ax.xaxis.get_offset_text().set_fontsize(7.3)
    ax.xaxis.get_offset_text().set_color("#333333")
    ax.set_xlabel("Timesteps", fontsize=8, labelpad=1)


def draw(ax, means, sds):
    for i, (m, s) in enumerate(zip(means, sds)):
        m = np.array(m)
        s = np.array(s)
        ax.fill_between(x, m - s, m + s, color=COLORS[i], alpha=0.22, linewidth=0)
    for i, m in enumerate(means):
        if i == 4:
            ax.plot(x, m, color=COLORS[i], lw=2.6, linestyle=(0, (0.1, 1.7)), dash_capstyle="round")
        else:
            ax.plot(x, m, color=COLORS[i], lw=2.9, solid_capstyle="round")


for r, (idm, ids, entm, ents, gsrm, gsrs) in enumerate(ROWS):
    top, bot = ROW_TOP[r], ROW_BOT[r]
    axes = [fig.add_axes([COL_LEFT[c] / W, 1 - bot / H, COL_W / W, (bot - top) / H]) for c in range(3)]

    # in-distribution success rate
    ax = axes[0]
    ax.axhspan(0, 0.5, color="#fde1e4", zorder=0.5, linewidth=0)
    draw(ax, idm, ids)
    ax.axhline(0.5, color="#3d4c58", lw=2.2, zorder=5)
    ax.set_ylim(0, 1.0)
    ax.yaxis.set_major_locator(MultipleLocator(0.2))
    ax.set_xlim(7e4, 1.5e7)
    ax.set_xticks(np.array([0.25, 0.5, 0.75, 1.0, 1.25, 1.5]) * 1e7)
    ax.set_ylabel("In-distribution SR", fontsize=8, labelpad=3)
    style(ax)

    # entropy
    ax = axes[1]
    draw(ax, entm, ents)
    ax.set_ylim(*ENT_LIM[r])
    ax.yaxis.set_major_locator(MultipleLocator(ENT_STEP[r]))
    ax.set_xlim(0, 1.5e7)
    ax.set_xticks(np.array([0, 0.25, 0.5, 0.75, 1.0, 1.25, 1.5]) * 1e7)
    ax.set_ylabel("Entropy", fontsize=8, labelpad=3)
    style(ax)

    # global success rate
    ax = axes[2]
    draw(ax, gsrm, gsrs)
    ax.set_ylim(*GSR_LIM[r])
    ax.yaxis.set_major_locator(MultipleLocator(0.1))
    ax.set_xlim(7e4, 1.5e7)
    ax.set_xticks(np.array([0.25, 0.5, 0.75, 1.0, 1.25, 1.5]) * 1e7)
    ax.set_ylabel("Global SR", fontsize=8, labelpad=3)
    style(ax)

    fig.text(378 / W, 1 - CAP_Y[r] / H, CAPTIONS[r], ha="center", va="center",
             fontsize=17.5, family="Liberation Serif", color="black")

handles = []
for i in range(5):
    if i == 4:
        handles.append(Line2D([], [], color=COLORS[i], lw=2.6, linestyle=(0, (0.1, 1.7)), dash_capstyle="round"))
    else:
        handles.append(Line2D([], [], color=COLORS[i], lw=3.2, solid_capstyle="round"))
leg = fig.legend(handles, METHODS, ncol=3, loc="center", bbox_to_anchor=(379.5 / W, 1 - 1395 / H),
                 frameon=False, fontsize=10.3, handlelength=2.3, handletextpad=0.7, columnspacing=2.0,
                 labelspacing=0.45)
for t in leg.get_texts():
    t.set_color("#262626")

fig.savefig("out.png", dpi=100)
